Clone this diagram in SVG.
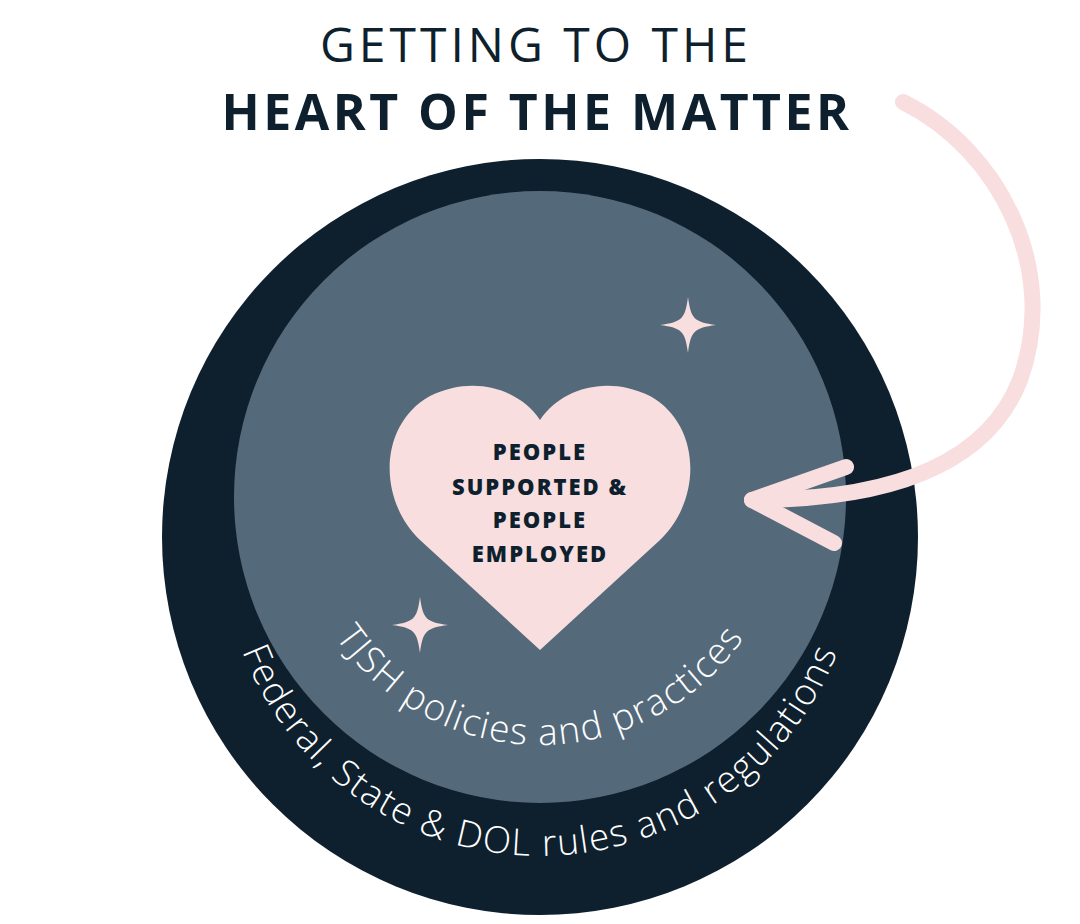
<svg xmlns="http://www.w3.org/2000/svg" width="1080" height="924" viewBox="0 0 1080 924">
<style>
.t{font-family:"Open Sans","Liberation Sans",sans-serif;fill:#0e1f2e;text-anchor:middle}
.arc{font-family:"Open Sans","Liberation Sans",sans-serif;fill:#ffffff;font-weight:300;font-size:37px;letter-spacing:1.5px}
.h{font-family:"Open Sans","Liberation Sans",sans-serif;fill:#0e1f2e;font-weight:800;font-size:22px;letter-spacing:2px;text-anchor:middle}
.pink{fill:#f8dede}
</style>
<defs>
<path id="sp" d="M0,-28 C3,-6 6,-3 28,0 C6,3 3,6 0,28 C-3,6 -6,3 -28,0 C-6,-3 -3,-6 0,-28Z"/>
<path id="outerArc" d="M221,537 A319,319 0 0 0 859,537"/>
<path id="innerArc" d="M292,497 A248,248 0 0 0 788,497"/>
</defs>
<rect width="1080" height="924" fill="#ffffff"/>
<g id="title">
<text class="t" x="536" y="62" font-size="48" font-weight="400" letter-spacing="4">GETTING TO THE</text>
<text class="t" x="537" y="130" font-size="50" font-weight="700" letter-spacing="3.5">HEART OF THE MATTER</text>
</g>
<g id="outer-circle"><circle cx="540" cy="537" r="378" fill="#0e1f2e"/></g>
<g id="inner-circle"><circle cx="540" cy="497" r="306" fill="#546a7b"/></g>
<g id="outer-label"><text class="arc"><textPath href="#outerArc" startOffset="50%" text-anchor="middle">Federal, State &amp; DOL rules and regulations</textPath></text></g>
<g id="inner-label"><text class="arc"><textPath href="#innerArc" startOffset="50%" text-anchor="middle">TJSH policies and practices</textPath></text></g>
<g id="heart">
<path class="pink" d="M540,650 L420,540 C378,500 378,425 430,396 C475,374 520,390 540,420 C560,390 605,374 650,396 C702,425 702,500 660,540 Z"/>
<text class="h" x="540" y="460">PEOPLE</text>
<text class="h" x="540" y="495">SUPPORTED &amp;</text>
<text class="h" x="540" y="528">PEOPLE</text>
<text class="h" x="540" y="562">EMPLOYED</text>
</g>
<g id="sparkles">
<use href="#sp" x="688" y="325" class="pink"/>
<use href="#sp" x="420" y="625" class="pink"/>
</g>
<g id="connectors" fill="none" stroke="#f8dede" stroke-width="16" stroke-linecap="round" stroke-linejoin="round">
<path d="M903,102 C1000,150 1060,270 1020,380 C985,470 880,500 752,500"/>
<path d="M846,467 L752,500 L834,543"/>
</g>
</svg>
